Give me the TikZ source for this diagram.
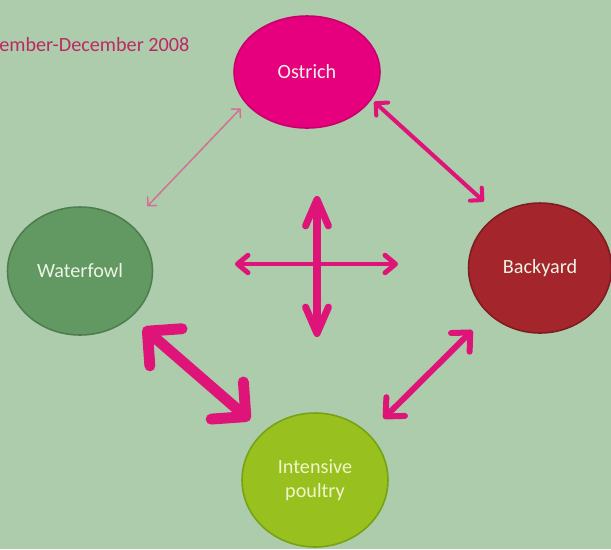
\documentclass[tikz,border=0pt]{standalone}
\usepackage{fontspec}
\setmainfont{Carlito}
\usetikzlibrary{shapes.geometric,arrows.meta}
\definecolor{bgcol}{RGB}{172,204,172}
\definecolor{arrcol}{RGB}{222,20,120}
\definecolor{thincol}{RGB}{212,112,150}
\definecolor{titlecol}{RGB}{190,40,100}
\definecolor{ostfill}{RGB}{230,0,126}
\definecolor{ostdraw}{RGB}{200,0,110}
\definecolor{wffill}{RGB}{98,152,98}
\definecolor{wfdraw}{RGB}{78,126,78}
\definecolor{byfill}{RGB}{164,38,44}
\definecolor{bydraw}{RGB}{128,28,32}
\definecolor{ipfill}{RGB}{152,192,30}
\definecolor{ipdraw}{RGB}{118,162,20}
\definecolor{txtcol}{RGB}{236,244,228}
\definecolor{iptxt}{RGB}{240,246,200}
\begin{document}
\begin{tikzpicture}[x=0.02cm,y=-0.02cm,
        farm/.style={ellipse,line width=0.9pt,inner sep=0pt,text=txtcol,
          font=\fontsize{11.5}{13}\selectfont,align=center},
        thinarr/.style={thincol,line width=0.85pt,
          {Straight Barb[length=3.5pt,width=7pt,round]}-{Straight Barb[length=3.5pt,width=7pt,round]}},
        medarr/.style={arrcol,line width=2.3pt,
          {Straight Barb[length=5pt,width=10pt,round]}-{Straight Barb[length=5pt,width=10pt,round]}},
        widearr/.style={arrcol,line width=3.4pt,
          {Straight Barb[length=8pt,width=15pt,round]}-{Straight Barb[length=8pt,width=15pt,round]}},
        thickarr/.style={arrcol,line width=6.2pt,
          {Straight Barb[length=14pt,width=28pt,round]}-{Straight Barb[length=14pt,width=28pt,round]}}]
        \fill[bgcol] (0,0) rectangle (611,549);
        \useasboundingbox (0,0) rectangle (611,549);
        \node[anchor=west,inner sep=0pt,text=titlecol,font=\fontsize{11.5}{13}\selectfont] (title) at (-1,45) {ember-December 2008};
        % the four kinds of holding
        \node[farm,fill=ostfill,draw=ostdraw,minimum width=2.92cm,minimum height=2.24cm] (ost) at (307,72) {Ostrich};
        \node[farm,fill=wffill,draw=wfdraw,minimum width=2.9cm,minimum height=2.56cm] (wf) at (80,271) {Waterfowl};
        \node[farm,fill=byfill,draw=bydraw,minimum width=2.86cm,minimum height=2.6cm] (by) at (540,268) {Backyard};
        \node[farm,fill=ipfill,draw=ipdraw,text=iptxt,minimum width=2.92cm,minimum height=2.68cm] (ip) at (315,480) {Intensive\\[1pt]poultry};
        % links between them
        \draw[thinarr,shorten <=4pt,shorten >=14pt] (ost.207) -- (wf.43);
        \draw[medarr,shorten <=2pt,shorten >=11pt] (ost.-23) -- (by.128);
        \draw[thickarr,shorten <=9pt,shorten >=10pt] (wf.-42) -- (ip.137);
        \draw[widearr,shorten <=13pt,shorten >=12pt] (by.222) -- (ip.41);
        % the cross in the middle
        \coordinate (cl) at (235,264);
        \coordinate (cr) at (398,264);
        \coordinate (ct) at (317,196);
        \coordinate (cb) at (317,337);
        \draw[arrcol,line width=2.8pt,
          {Straight Barb[length=6pt,width=10pt,round]}-{Straight Barb[length=6pt,width=10pt,round]}] (cl) -- (cr);
        \draw[arrcol,line width=4pt,
          {Straight Barb[length=15pt,width=13pt,round]}-{Straight Barb[length=15pt,width=13pt,round]}] (ct) -- (cb);
\end{tikzpicture}
\end{document}
